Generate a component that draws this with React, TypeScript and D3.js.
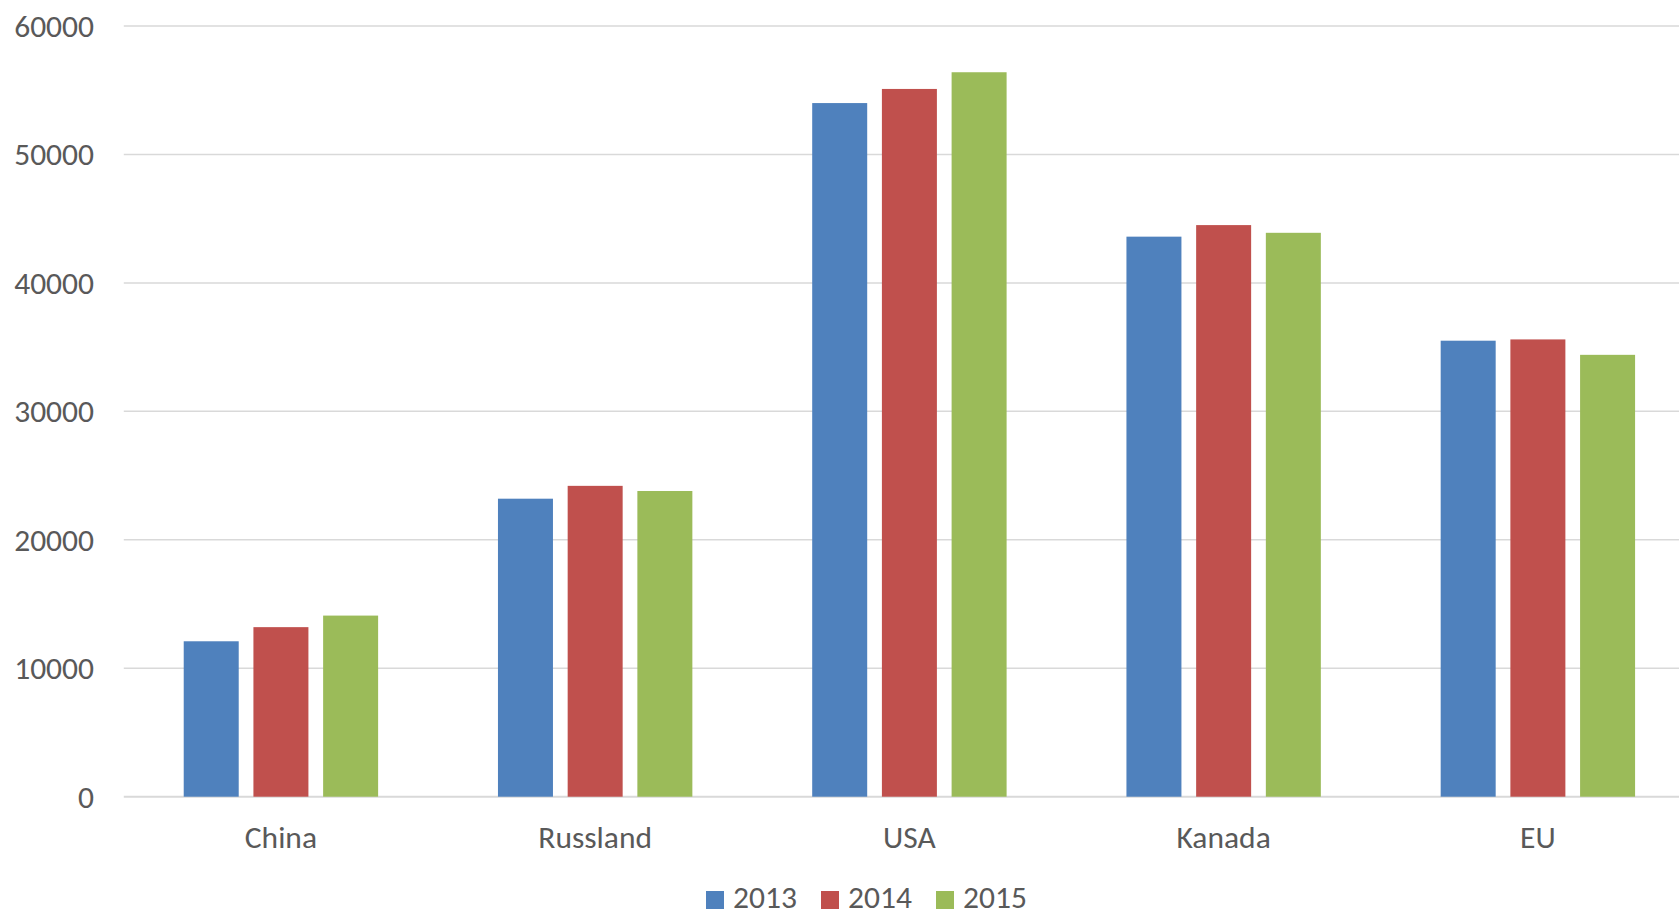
import React from "react";
import * as d3 from "d3";

// Regions and yearly values
const categories = ["China", "Russland", "USA", "Kanada", "EU"];
const years = ["2013", "2014", "2015"];
const values2013 = [12100, 23200, 54000, 43600, 35500];
const values2014 = [13200, 24200, 55100, 44500, 35600];
const values2015 = [14100, 23800, 56400, 43900, 34400];
const yTicks = [0, 10000, 20000, 30000, 40000, 50000, 60000];
const colors = ["#4f81bd", "#c0504d", "#9bbb59"];

const seriesValues = [values2013, values2014, values2015];

const WIDTH = 1679;
const HEIGHT = 912;
const FONT = "Carlito, Calibri, Lato, sans-serif";
const TEXT_COLOR = "#595959";
const FONT_SIZE = 31.5;

export default function App() {
  const plotLeft = 123.8;
  const plotRight = 1695;
  const plotTop = 26;
  const plotBottom = 796.7;

  const x0 = d3.scaleBand<string>().domain(categories).range([plotLeft, plotRight]).padding(0);
  const groupWidth = 194.4;
  const x1 = d3
    .scaleBand<string>()
    .domain(years)
    .range([0, groupWidth])
    .paddingInner(0.211)
    .paddingOuter(0);
  const y = d3.scaleLinear().domain([0, 60000]).range([plotBottom, plotTop]);

  const legendStart = 706;
  const legendStep = 115;

  return (
    <svg
      width={WIDTH}
      height={HEIGHT}
      style={{ position: "absolute", left: 0, top: 0, background: "#fff" }}
      fontFamily={FONT}
    >
      <rect x={0} y={0} width={WIDTH} height={HEIGHT} fill="#fff" />
      {/* gridlines */}
      {yTicks.map((t) => (
        <line
          key={t}
          x1={plotLeft}
          x2={plotRight}
          y1={y(t)}
          y2={y(t)}
          stroke="#d9d9d9"
          strokeWidth={t === 0 ? 2 : 1.5}
        />
      ))}
      {/* y tick labels */}
      {yTicks.map((t) => (
        <text
          key={"l" + t}
          x={94}
          y={y(t)}
          textAnchor="end"
          dominantBaseline="central"
          fontSize={FONT_SIZE}
          fill={TEXT_COLOR}
        >
          {t}
        </text>
      ))}
      {/* bars */}
      {categories.map((c, ci) => {
        const gx = (x0(c) as number) + (x0.bandwidth() - groupWidth) / 2;
        return (
          <g key={c}>
            {years.map((yr, si) => {
              const v = seriesValues[si][ci];
              return (
                <rect
                  key={yr}
                  x={gx + (x1(yr) as number)}
                  y={y(v)}
                  width={x1.bandwidth()}
                  height={y(0) - y(v)}
                  fill={colors[si]}
                />
              );
            })}
          </g>
        );
      })}
      {/* category labels */}
      {categories.map((c) => (
        <text
          key={"c" + c}
          x={(x0(c) as number) + x0.bandwidth() / 2}
          y={848}
          textAnchor="middle"
          fontSize={FONT_SIZE}
          fill={TEXT_COLOR}
        >
          {c}
        </text>
      ))}
      {/* legend */}
      {years.map((yr, i) => (
        <g key={"lg" + yr} transform={`translate(${legendStart + i * legendStep},0)`}>
          <rect x={0} y={891} width={18} height={18} fill={colors[i]} />
          <text x={27} y={908} fontSize={FONT_SIZE} fill={TEXT_COLOR}>
            {yr}
          </text>
        </g>
      ))}
    </svg>
  );
}
